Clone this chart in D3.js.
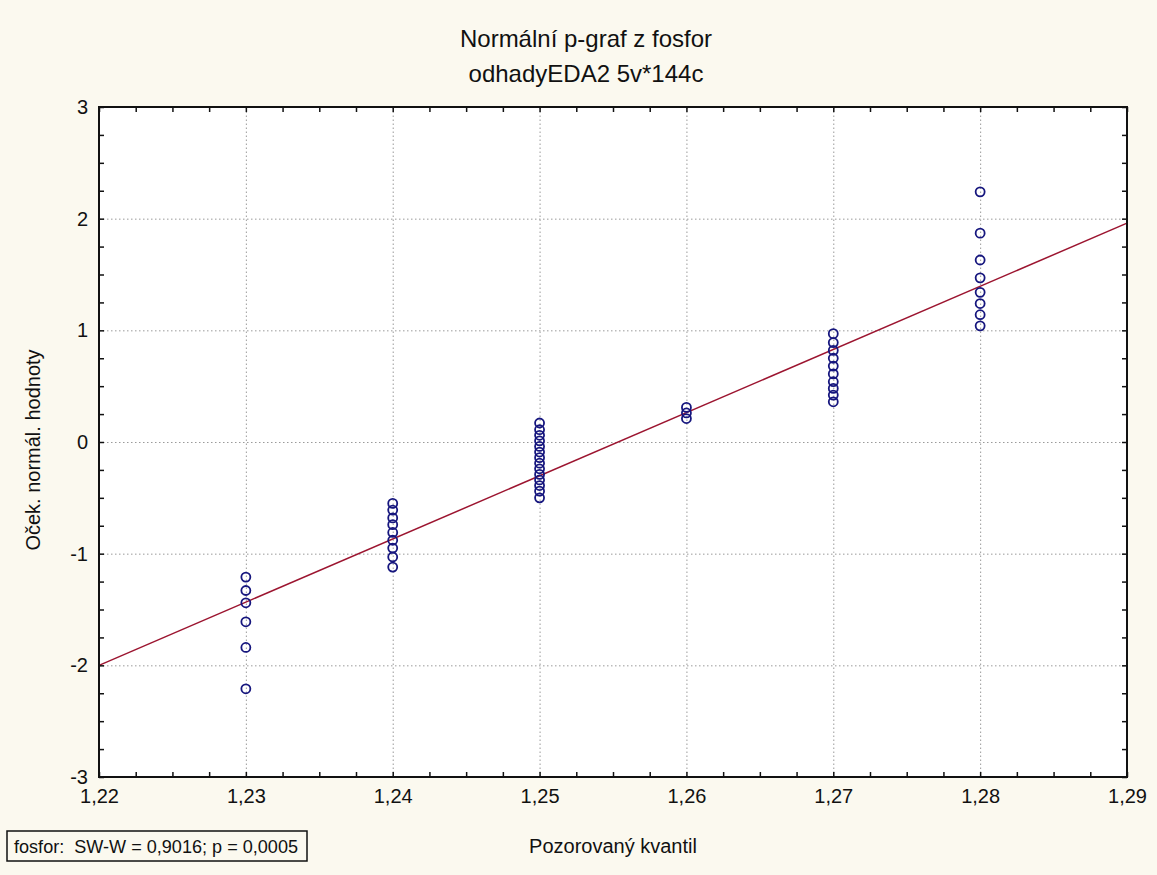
<!DOCTYPE html>
<html>
<head>
<meta charset="utf-8">
<script src="https://cdn.jsdelivr.net/npm/d3@7/dist/d3.min.js"></script>
<style>
  html, body { margin: 0; padding: 0; background: #fbf9ef; }
  svg { display: block; }
  text { font-family: "Liberation Sans", Arial, sans-serif; fill: #111; }
</style>
</head>
<body>
<svg id="chart" width="1157" height="875"></svg>
<script>
// Titles and labels
const titleLines = ["Normální p-graf z fosfor", "odhadyEDA2 5v*144c"];
const xTitle = "Pozorovaný kvantil";
const yTitle = "Oček. normál. hodnoty";
const statText = "fosfor:  SW-W = 0,9016; p = 0,0005";

// Axis ticks
const xTicks = [1.22, 1.23, 1.24, 1.25, 1.26, 1.27, 1.28, 1.29];
const yTicks = [-3, -2, -1, 0, 1, 2, 3];

// Observed values (x) and expected normal values (y)
const observed = [
  1.23, 1.23, 1.23, 1.23, 1.23, 1.23,
  1.24, 1.24, 1.24, 1.24, 1.24, 1.24, 1.24, 1.24, 1.24,
  1.25, 1.25, 1.25, 1.25, 1.25, 1.25, 1.25, 1.25, 1.25, 1.25, 1.25, 1.25, 1.25, 1.25,
  1.26, 1.26, 1.26,
  1.27, 1.27, 1.27, 1.27, 1.27, 1.27, 1.27, 1.27, 1.27, 1.27,
  1.28, 1.28, 1.28, 1.28, 1.28, 1.28, 1.28, 1.28
];
const expectedNormal = [
  -2.21, -1.84, -1.61, -1.44, -1.33, -1.21,
  -1.12, -1.03, -0.95, -0.88, -0.81, -0.74, -0.68, -0.61, -0.55,
  -0.50, -0.44, -0.39, -0.34, -0.29, -0.24, -0.19, -0.14, -0.09, -0.04, 0.01, 0.06, 0.11, 0.17,
  0.21, 0.26, 0.31,
  0.36, 0.42, 0.48, 0.54, 0.61, 0.68, 0.75, 0.82, 0.89, 0.97,
  1.04, 1.14, 1.24, 1.34, 1.47, 1.63, 1.87, 2.24
];

// Reference normal line endpoints
const fitX = [1.22, 1.29];
const fitY = [-2.00, 1.96];

const svg = d3.select("#chart");
const margin = { left: 99, right: 30, top: 107, bottom: 98 };
const W = 1157, H = 875;
const iw = W - margin.left - margin.right;
const ih = H - margin.top - margin.bottom;

const cz = d3.formatLocale({ decimal: ",", thousands: " ", grouping: [3], currency: ["", " Kč"], minus: "-" });
const fmtX = cz.format(".2f");
const fmtY = cz.format("d");

const x = d3.scaleLinear().domain([1.22, 1.29]).range([0, iw]);
const y = d3.scaleLinear().domain([-3, 3]).range([ih, 0]);

const g = svg.append("g").attr("transform", `translate(${margin.left},${margin.top})`);

// plot background
g.append("rect").attr("width", iw).attr("height", ih).attr("fill", "#ffffff");

// dotted grid
const gridStyle = sel => {
  sel.select(".domain").remove();
  sel.selectAll("text").remove();
  sel.selectAll("line").attr("stroke", "#9a9a9a").attr("stroke-width", 1).attr("stroke-dasharray", "1.5,2.5");
};
g.append("g")
  .attr("transform", `translate(0,${ih})`)
  .call(d3.axisBottom(x).tickValues(xTicks.slice(1, -1)).tickSize(-ih).tickFormat(""))
  .call(gridStyle);
g.append("g")
  .call(d3.axisLeft(y).tickValues(yTicks.slice(1, -1)).tickSize(-iw).tickFormat(""))
  .call(gridStyle);

// fitted line
const line = d3.line().x((d, i) => x(fitX[i])).y(d => y(d));
g.append("path")
  .datum(fitY)
  .attr("d", line)
  .attr("fill", "none")
  .attr("stroke", "#9c1530")
  .attr("stroke-width", 1.5);

// points
g.append("g").selectAll("circle")
  .data(observed)
  .join("circle")
  .attr("cx", d => x(d))
  .attr("cy", (d, i) => y(expectedNormal[i]))
  .attr("r", 4.5)
  .attr("fill", "none")
  .attr("stroke", "#16167e")
  .attr("stroke-width", 1.8);

// inward minor/major ticks on all four sides
const xMinor = d3.range(0, 29).map(i => 1.22 + i * 0.0025);
const yMinor = d3.range(0, 25).map(i => -3 + i * 0.25);
const tickStyle = sel => {
  sel.select(".domain").remove();
  sel.selectAll("text").remove();
  sel.selectAll("line").attr("stroke", "#111").attr("stroke-width", 1.5);
};
g.append("g").attr("transform", `translate(0,${ih})`)
  .call(d3.axisBottom(x).tickValues(xMinor).tickSize(-5)).call(tickStyle);
g.append("g")
  .call(d3.axisTop(x).tickValues(xMinor).tickSize(-5)).call(tickStyle);
g.append("g")
  .call(d3.axisLeft(y).tickValues(yMinor).tickSize(-5)).call(tickStyle);
g.append("g").attr("transform", `translate(${iw},0)`)
  .call(d3.axisRight(y).tickValues(yMinor).tickSize(-5)).call(tickStyle);

// frame
g.append("rect").attr("width", iw).attr("height", ih)
  .attr("fill", "none").attr("stroke", "#111").attr("stroke-width", 2);

// tick labels
const labelStyle = sel => {
  sel.select(".domain").remove();
  sel.selectAll("line").remove();
  sel.selectAll("text").attr("font-size", 20).attr("font-family", "Liberation Sans, Arial, sans-serif").attr("fill", "#111");
};
g.append("g").attr("transform", `translate(0,${ih})`)
  .call(d3.axisBottom(x).tickValues(xTicks).tickSize(0).tickPadding(12).tickFormat(fmtX))
  .call(labelStyle);
g.append("g")
  .call(d3.axisLeft(y).tickValues(yTicks).tickSize(0).tickPadding(11).tickFormat(fmtY))
  .call(labelStyle);

// titles
svg.append("g").selectAll("text")
  .data(titleLines)
  .join("text")
  .attr("x", 586)
  .attr("y", (d, i) => 47 + i * 35)
  .attr("text-anchor", "middle")
  .attr("font-size", 24)
  .text(d => d);

svg.append("text")
  .attr("x", margin.left + iw / 2)
  .attr("y", 853)
  .attr("text-anchor", "middle")
  .attr("font-size", 20)
  .text(xTitle);

svg.append("text")
  .attr("transform", `translate(40,${margin.top + ih / 2 + 8}) rotate(-90)`)
  .attr("text-anchor", "middle")
  .attr("font-size", 20)
  .text(yTitle);

// statistics box
const box = svg.append("g").attr("transform", "translate(7,831)");
box.append("rect").attr("width", 300).attr("height", 30)
  .attr("fill", "none").attr("stroke", "#111").attr("stroke-width", 1.5);
box.append("text").attr("x", 7).attr("y", 22).attr("font-size", 19)
  .attr("textLength", 284).attr("lengthAdjust", "spacingAndGlyphs")
  .style("white-space", "pre").text(statText);
</script>
</body>
</html>
